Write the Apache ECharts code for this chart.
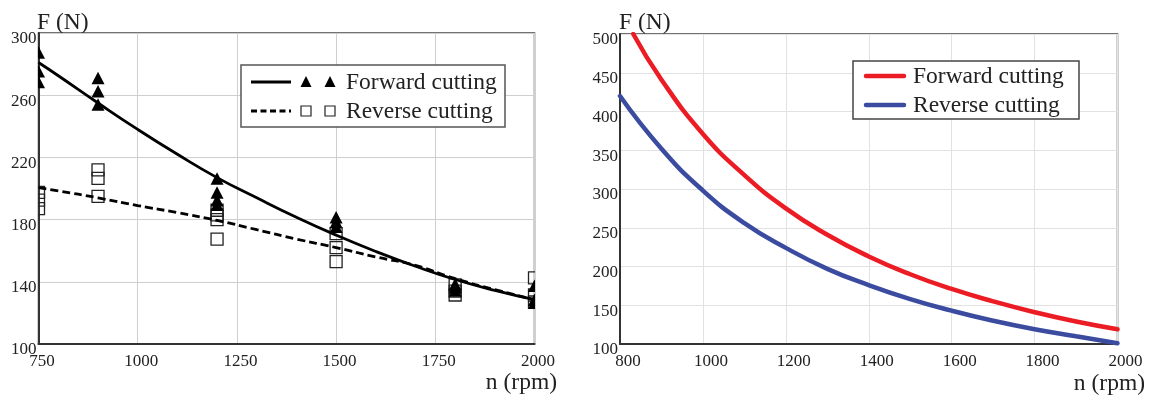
<!DOCTYPE html>
<html>
<head>
<meta charset="utf-8">
<script src="https://cdn.jsdelivr.net/npm/echarts@6/dist/echarts.min.js"></script>
<style>
html,body{margin:0;padding:0;background:#fff;}
#chart{width:1150px;height:398px;}
</style>
</head>
<body>
<div id="chart"></div>
<script>
// ---------- Left chart data ----------
const leftXTicks = [750, 1000, 1250, 1500, 1750, 2000];
const leftYTicks = [100, 140, 180, 220, 260, 300];
// fitted curves
const fwdFitN = [750, 800, 900, 1000, 1100, 1200, 1300, 1400, 1500, 1600, 1700, 1800, 1900, 2000];
const fwdFitF = [281, 272.5, 255, 238, 222, 207, 194, 181.5, 170, 159.5, 150, 141.5, 134.5, 128.5];
const revFitN = [750, 800, 900, 1000, 1100, 1200, 1300, 1400, 1500, 1600, 1700, 1800, 1900, 2000];
const revFitF = [200.5, 198.5, 194, 189, 184.5, 179.5, 173.5, 167.5, 162, 156, 150.5, 142, 135, 128.5];
// measured points
const fwdMeasN = [750, 750, 750, 900, 900, 900, 1200, 1200, 1200, 1200, 1500, 1500, 1500, 1800, 1800, 1800, 2000, 2000, 2000];
const fwdMeasF = [287, 275, 268, 270.5, 262, 253.5, 206, 197, 192, 189, 181, 178, 175, 138, 136, 134, 137, 128, 126];
const revMeasN = [750, 750, 750, 900, 900, 900, 1200, 1200, 1200, 1200, 1500, 1500, 1500, 1800, 1800, 1800, 2000, 2000, 2000];
const revMeasF = [197.5, 192.5, 187, 212, 206.5, 195, 186, 183, 180, 167.5, 171, 162, 153, 138, 134, 131.5, 142.5, 131.5, 127];

// ---------- Right chart data ----------
const rightXTicks = [800, 1000, 1200, 1400, 1600, 1800, 2000];
const rightYTicks = [100, 150, 200, 250, 300, 350, 400, 450, 500];
const redN = [832, 900, 1000, 1100, 1200, 1300, 1400, 1500, 1600, 1700, 1800, 1900, 2000];
const redF = [500, 441, 371, 318, 275, 241, 213, 190, 171, 155, 141, 129, 119];
const blueN = [800, 900, 1000, 1100, 1200, 1300, 1400, 1500, 1600, 1700, 1800, 1900, 2000];
const blueF = [420, 352, 298, 256, 224, 197, 176, 158, 143, 130, 119, 110, 101];

const seriesNames = ['Forward cutting', 'Reverse cutting'];
const yTitle = 'F (N)';
const xTitle = 'n (rpm)';

const zip = (a, b) => a.map((v, i) => [v, b[i]]);
const FONT = '"Liberation Serif", "Times New Roman", serif';
const TXT = '#222';
const richLabel = v => '{a|' + v + '}';

function xAxisCfg(gridIndex, ticks, padLeft, gridColor) {
  return {
    type: 'value', gridIndex,
    min: ticks[0], max: ticks[ticks.length - 1], interval: ticks[1] - ticks[0],
    axisLine: {show: true, onZero: false, lineStyle: {color: '#333', width: 2}},
    axisTick: {show: false},
    splitLine: {show: true, lineStyle: {color: gridColor, width: 1}},
    axisLabel: {show: true, formatter: richLabel, margin: 9, showMinLabel: true, showMaxLabel: true,
      rich: {a: {fontFamily: FONT, fontSize: 17, color: TXT, padding: [0, 0, 0, padLeft]}}}
  };
}
function yAxisCfg(gridIndex, ticks, gridColor) {
  return {
    type: 'value', gridIndex,
    min: ticks[0], max: ticks[ticks.length - 1], interval: ticks[1] - ticks[0],
    axisLine: {show: true, onZero: false, lineStyle: {color: '#333', width: 2}},
    axisTick: {show: false},
    splitLine: {show: true, lineStyle: {color: gridColor, width: 1}},
    axisLabel: {show: true, formatter: richLabel, margin: 2, showMinLabel: true, showMaxLabel: true,
      rich: {a: {fontFamily: FONT, fontSize: 17, color: TXT, padding: [12, 0, 0, 0]}}}
  };
}

function triItem(params, api) {
  const p = api.coord([api.value(0), api.value(1)]);
  return {type: 'polygon', shape: {points: [[p[0], p[1] - 7], [p[0] - 6.5, p[1] + 5.5], [p[0] + 6.5, p[1] + 5.5]]},
    style: {fill: '#000'}};
}
function sqItem(params, api) {
  const p = api.coord([api.value(0), api.value(1)]);
  return {type: 'rect', shape: {x: p[0] - 6, y: p[1] - 6, width: 12, height: 12},
    style: {fill: 'none', stroke: '#222', lineWidth: 1.3}};
}

const chart = echarts.init(document.getElementById('chart'), null, {renderer: 'canvas'});

const legendFont = '23.5px ' + FONT;
const graphic = [
  // axis titles
  {type: 'text', left: 37, top: 11, style: {text: yTitle, font: legendFont, fill: TXT}},
  {type: 'text', left: 619, top: 11, style: {text: yTitle, font: legendFont, fill: TXT}},
  {type: 'text', right: 1150 - 557, top: 371, style: {text: xTitle, font: legendFont, fill: TXT}},
  {type: 'text', right: 1150 - 1145, top: 372, style: {text: xTitle, font: legendFont, fill: TXT}},
  // left legend
  {type: 'rect', z: 10, shape: {x: 241, y: 65, width: 264, height: 62}, style: {fill: '#fff', stroke: '#555', lineWidth: 1.5}},
  {type: 'line', z: 11, shape: {x1: 251, y1: 82, x2: 291, y2: 82}, style: {stroke: '#000', lineWidth: 2.8}},
  {type: 'line', z: 11, shape: {x1: 251, y1: 111, x2: 291, y2: 111}, style: {stroke: '#000', lineWidth: 2.8, lineDash: [6, 3.5]}},
  {type: 'polygon', z: 11, shape: {points: [[306, 76], [300.5, 87], [311.5, 87]]}, style: {fill: '#000'}},
  {type: 'polygon', z: 11, shape: {points: [[330, 76], [324.5, 87], [335.5, 87]]}, style: {fill: '#000'}},
  {type: 'rect', z: 11, shape: {x: 301, y: 106, width: 10, height: 10}, style: {fill: 'none', stroke: '#222', lineWidth: 1.2}},
  {type: 'rect', z: 11, shape: {x: 325, y: 106, width: 10, height: 10}, style: {fill: 'none', stroke: '#222', lineWidth: 1.2}},
  {type: 'text', z: 11, x: 346, y: 83, style: {text: seriesNames[0], font: legendFont, fill: TXT, verticalAlign: 'middle'}},
  {type: 'text', z: 11, x: 346, y: 112, style: {text: seriesNames[1], font: legendFont, fill: TXT, verticalAlign: 'middle'}},
  // right legend
  {type: 'rect', z: 10, shape: {x: 853, y: 61, width: 226, height: 58}, style: {fill: '#fff', stroke: '#444', lineWidth: 1.5}},
  {type: 'line', z: 11, shape: {x1: 866, y1: 76, x2: 904, y2: 76}, style: {stroke: '#ec1c24', lineWidth: 4.5, lineCap: 'round'}},
  {type: 'line', z: 11, shape: {x1: 866, y1: 105, x2: 904, y2: 105}, style: {stroke: '#3b4ca0', lineWidth: 4.5, lineCap: 'round'}},
  {type: 'text', z: 11, x: 913, y: 77, style: {text: seriesNames[0], font: legendFont, fill: TXT, verticalAlign: 'middle'}},
  {type: 'text', z: 11, x: 913, y: 106, style: {text: seriesNames[1], font: legendFont, fill: TXT, verticalAlign: 'middle'}}
];

chart.setOption({
  animation: false,
  backgroundColor: '#fff',
  grid: [
    {left: 38.5, top: 33, width: 496, height: 311, show: true, borderColor: '#444', borderWidth: 1.5, backgroundColor: 'transparent', containLabel: false},
    {left: 620, top: 34, width: 497.5, height: 310, show: true, borderColor: '#444', borderWidth: 1.5, backgroundColor: 'transparent', containLabel: false}
  ],
  xAxis: [xAxisCfg(0, leftXTicks, 7, '#cfcfcf'), xAxisCfg(1, rightXTicks, 16, '#e2e2e2')],
  yAxis: [yAxisCfg(0, leftYTicks, '#cfcfcf'), yAxisCfg(1, rightYTicks, '#e2e2e2')],
  graphic,
  series: [
    {name: seriesNames[1] + ' data', type: 'custom', xAxisIndex: 0, yAxisIndex: 0, clip: true, z: 3,
      data: zip(revMeasN, revMeasF), renderItem: sqItem},
    {name: seriesNames[0] + ' data', type: 'custom', xAxisIndex: 0, yAxisIndex: 0, clip: true, z: 4,
      data: zip(fwdMeasN, fwdMeasF), renderItem: triItem},
    {name: seriesNames[0], type: 'line', xAxisIndex: 0, yAxisIndex: 0, smooth: true, showSymbol: false, z: 5,
      data: zip(fwdFitN, fwdFitF), lineStyle: {color: '#000', width: 2.8}},
    {name: seriesNames[1], type: 'line', xAxisIndex: 0, yAxisIndex: 0, smooth: true, showSymbol: false, z: 5,
      data: zip(revFitN, revFitF), lineStyle: {color: '#000', width: 2.8, type: [8, 4]}},
    {name: seriesNames[0] + ' ', type: 'line', xAxisIndex: 1, yAxisIndex: 1, smooth: true, showSymbol: false, z: 5,
      data: zip(redN, redF), lineStyle: {color: '#ec1c24', width: 4.5, cap: 'round'}},
    {name: seriesNames[1] + ' ', type: 'line', xAxisIndex: 1, yAxisIndex: 1, smooth: true, showSymbol: false, z: 5,
      data: zip(blueN, blueF), lineStyle: {color: '#3b4ca0', width: 4.5, cap: 'round'}}
  ]
});
</script>
</body>
</html>
